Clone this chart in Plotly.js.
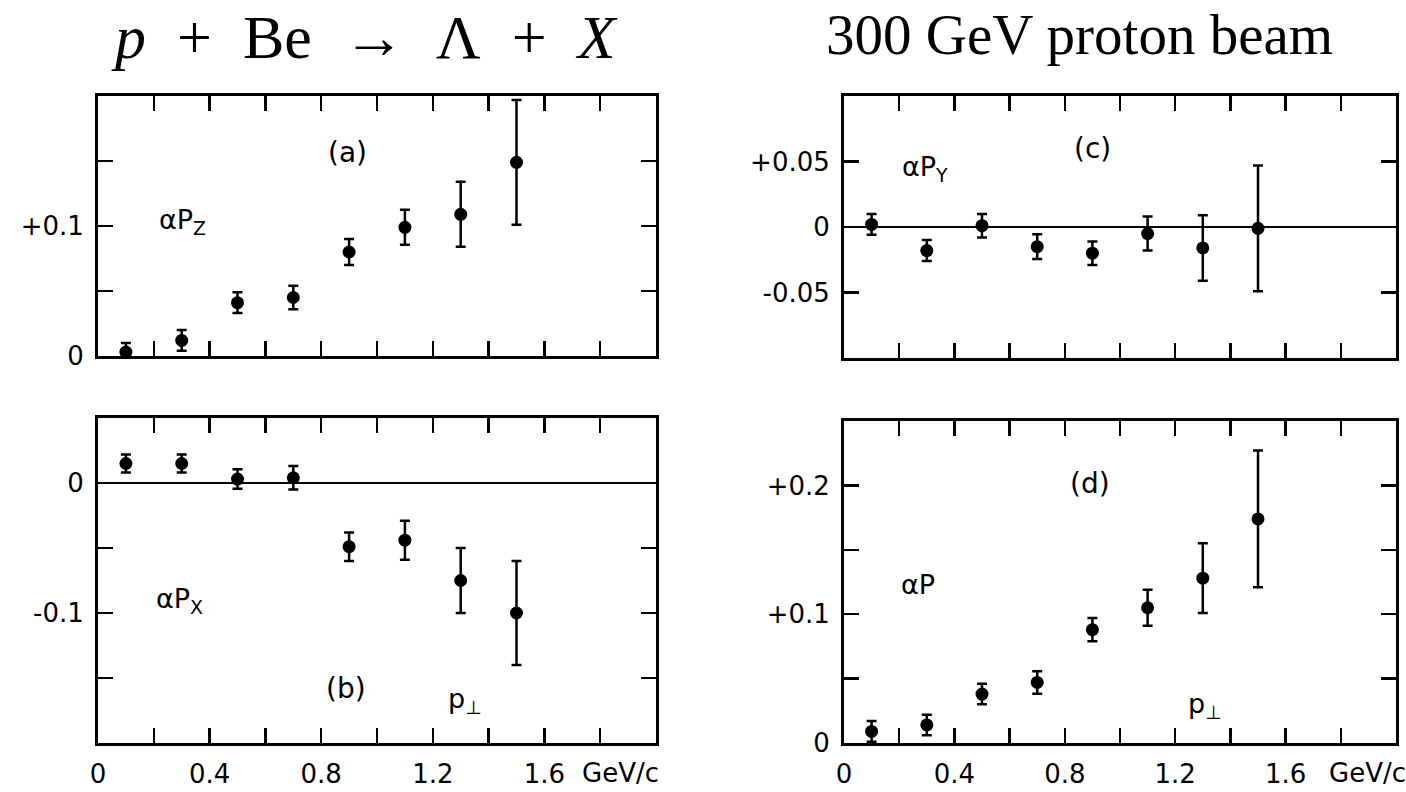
<!DOCTYPE html>
<html>
<head>
<meta charset="utf-8">
<script src="https://cdn.plot.ly/plotly-3.0.1.min.js"></script>
<style>
  html, body { margin: 0; padding: 0; background: #ffffff; }
  #chart { width: 1406px; height: 792px; }
</style>
</head>
<body>
<div id="chart"></div>
<script>
// p_perp bin centres (GeV/c)
const pT = [0.1, 0.3, 0.5, 0.7, 0.9, 1.1, 1.3, 1.5];

// (a) alpha*P_Z
const aPz = [0.003, 0.012, 0.041, 0.045, 0.080, 0.099, 0.109, 0.149];
const aPzErr = [0.007, 0.008, 0.008, 0.009, 0.010, 0.0135, 0.025, 0.048];

// (b) alpha*P_X
const aPx = [0.015, 0.015, 0.003, 0.004, -0.049, -0.044, -0.075, -0.100];
const aPxErr = [0.007, 0.007, 0.0075, 0.009, 0.011, 0.015, 0.025, 0.040];

// (c) alpha*P_Y
const aPy = [0.002, -0.018, 0.001, -0.015, -0.020, -0.005, -0.016, -0.001];
const aPyErr = [0.008, 0.008, 0.009, 0.0095, 0.009, 0.013, 0.025, 0.048];

// (d) alpha*P
const aP = [0.009, 0.014, 0.038, 0.047, 0.088, 0.105, 0.128, 0.174];
const aPErr = [0.008, 0.008, 0.008, 0.0087, 0.009, 0.014, 0.027, 0.053];

// labelled ticks
const xTickVals = [0, 0.4, 0.8, 1.2, 1.6];
const xTickText = ['0', '0.4', '0.8', '1.2', '1.6'];
const aTickVals = [0, 0.1];
const aTickText = ['0', '+0.1'];
const bTickVals = [-0.1, 0];
const bTickText = ['-0.1', '0'];
const cTickVals = [-0.05, 0, 0.05];
const cTickText = ['-0.05', '0', '+0.05'];
const dTickVals = [0, 0.1, 0.2];
const dTickText = ['0', '+0.1', '+0.2'];

const W = 1406, H = 792;
const sans = 'DejaVu Sans, Liberation Sans, Arial, sans-serif';
const serif = 'Liberation Serif, Times New Roman, serif';

function trace(y, err, xa, ya) {
  return {
    x: pT, y: y, xaxis: xa, yaxis: ya,
    type: 'scatter', mode: 'markers',
    marker: { color: 'black', size: 13, symbol: 'circle' },
    error_y: { type: 'data', array: err, visible: true, color: 'black', thickness: 2.5, width: 5 },
    showlegend: false, hoverinfo: 'skip', cliponaxis: true
  };
}

const tickStyle = { ticks: 'inside', ticklen: 15, tickwidth: 2.5, tickcolor: 'black' };

function xAxis(px0, px1, anchor, labels) {
  return Object.assign({
    domain: [px0 / W, px1 / W], anchor: anchor, range: [0, 2.0],
    tickmode: 'array', tickvals: xTickVals, ticktext: xTickText,
    showticklabels: labels,
    minor: { ticks: 'inside', ticklen: 15, tickwidth: 2.5, tickcolor: 'black', dtick: 0.2, tick0: 0 },
    showline: true, linewidth: 3, linecolor: 'black', mirror: 'ticks',
    showgrid: false, zeroline: false, fixedrange: true,
    tickfont: { family: sans, size: 26, color: 'black' },
    ticklabelstandoff: 6
  }, tickStyle);
}

function yAxis(pyTop, pyBot, anchor, range, vals, text, zl) {
  return Object.assign({
    domain: [1 - pyBot / H, 1 - pyTop / H], anchor: anchor, range: range,
    tickmode: 'array', tickvals: vals, ticktext: text,
    minor: { ticks: 'inside', ticklen: 15, tickwidth: 2.5, tickcolor: 'black', dtick: 0.05, tick0: 0 },
    showline: true, linewidth: 3, linecolor: 'black', mirror: 'ticks',
    showgrid: false, zeroline: zl, zerolinecolor: 'black', zerolinewidth: 2,
    fixedrange: true,
    tickfont: { family: sans, size: 26, color: 'black' },
    ticklabelstandoff: 6
  }, tickStyle);
}

const data = [
  trace(aPz, aPzErr, 'x', 'y'),
  trace(aPx, aPxErr, 'x2', 'y2'),
  trace(aPy, aPyErr, 'x3', 'y3'),
  trace(aP, aPErr, 'x4', 'y4')
];

function ann(text, x, y, size, family, xanchor, yanchor) {
  return {
    text: text, xref: 'paper', yref: 'paper', x: x / W, y: 1 - y / H,
    xanchor: xanchor || 'center', yanchor: yanchor || 'middle', showarrow: false,
    font: { family: family, size: size, color: 'black' }
  };
}

const layout = {
  width: W, height: H,
  margin: { l: 0, r: 0, t: 0, b: 0 },
  paper_bgcolor: 'white', plot_bgcolor: 'white',
  showlegend: false,
  xaxis: xAxis(98, 656, 'y', false),
  yaxis: yAxis(96, 356, 'x', [0, 0.2], aTickVals, aTickText, false),
  xaxis2: xAxis(98, 656, 'y2', true),
  yaxis2: yAxis(418, 743, 'x2', [-0.2, 0.05], bTickVals, bTickText, true),
  xaxis3: xAxis(844, 1396, 'y3', false),
  yaxis3: yAxis(96, 358, 'x3', [-0.1, 0.1], cTickVals, cTickText, true),
  xaxis4: xAxis(844, 1396, 'y4', true),
  yaxis4: yAxis(421, 743, 'x4', [0, 0.25], dTickVals, dTickText, false),
  annotations: [
    ann('<i>p</i>&#8194;+&#8194;Be&#8194;→&#8194;Λ&#8194;+&#8194;<i>X</i>', 364, 1, 62, serif, 'center', 'top'),
    ann('300 GeV proton beam', 1079, 1, 57, serif, 'center', 'top'),
    ann('(a)', 347, 152, 28, sans),
    ann('(b)', 346, 688, 28, sans),
    ann('(c)', 1092, 148, 28, sans),
    ann('(d)', 1090, 483, 28, sans),
    ann('αP<sub>Z</sub>', 157, 222, 27, sans, 'left'),
    ann('αP<sub>X</sub>', 154, 600, 27, sans, 'left'),
    ann('αP<sub>Y</sub>', 900, 168, 27, sans, 'left'),
    ann('αP', 899, 584, 27, sans, 'left'),
    ann('p<sub>⊥</sub>', 446, 700, 27, sans, 'left'),
    ann('p<sub>⊥</sub>', 1186, 705, 27, sans, 'left'),
    ann('GeV/c', 580, 773, 26, sans, 'left'),
    ann('GeV/c', 1327, 773, 26, sans, 'left')
  ]
};

Plotly.newPlot('chart', data, layout, { staticPlot: true, displayModeBar: false });
</script>
</body>
</html>
